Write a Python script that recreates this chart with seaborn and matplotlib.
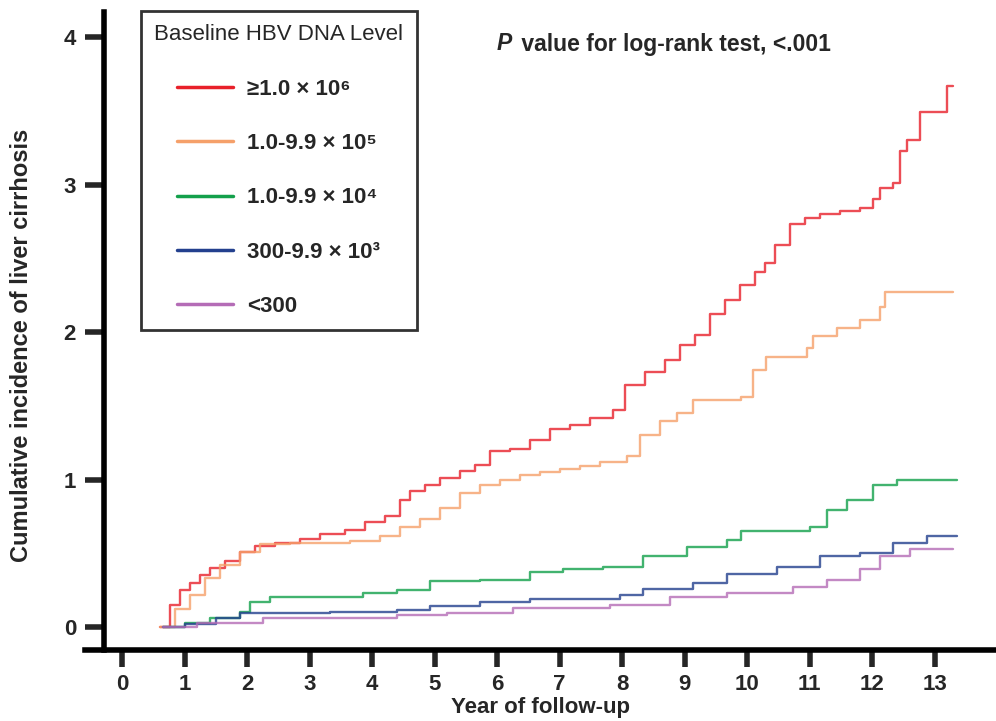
import pandas as pd
import matplotlib.pyplot as plt
import seaborn as sns

groups = ["≥1.0 × 10⁶", "1.0-9.9 × 10⁵", "1.0-9.9 × 10⁴", "300-9.9 × 10³", "<300"]
colors = ["#e8202a", "#f5a06a", "#13a04b", "#23408e", "#b46cb6"]

red_t = [0.61, 0.77, 0.93, 1.09, 1.25, 1.41, 1.65, 1.89, 2.13, 2.45, 2.85, 3.17, 3.57, 3.89, 4.21,
         4.45, 4.61, 4.85, 5.09, 5.41, 5.65, 5.89, 6.21, 6.53, 6.85, 7.17, 7.49, 7.86, 8.05, 8.37,
         8.69, 8.93, 9.17, 9.41, 9.65, 9.89, 10.13, 10.29, 10.45, 10.69, 10.93, 11.17, 11.49, 11.81,
         12.02, 12.13, 12.34, 12.45, 12.56, 12.77, 13.2, 13.3]
red_y = [0, 0.15, 0.25, 0.30, 0.35, 0.40, 0.45, 0.51, 0.55, 0.57, 0.60, 0.63, 0.66, 0.71, 0.75,
         0.86, 0.92, 0.96, 1.01, 1.06, 1.10, 1.19, 1.21, 1.27, 1.34, 1.37, 1.42, 1.47, 1.64, 1.73,
         1.81, 1.91, 1.98, 2.12, 2.22, 2.32, 2.41, 2.47, 2.59, 2.73, 2.77, 2.80, 2.82, 2.84,
         2.90, 2.98, 3.01, 3.23, 3.30, 3.49, 3.67, 3.67]

orange_t = [0.61, 0.85, 1.09, 1.33, 1.57, 1.89, 2.21, 2.69, 3.65, 4.13, 4.45, 4.77, 5.09, 5.41,
            5.73, 6.05, 6.37, 6.69, 7.01, 7.33, 7.65, 8.08, 8.29, 8.61, 8.88, 9.14, 9.90, 10.10,
            10.30, 10.96, 11.06, 11.44, 11.81, 12.13, 12.21, 13.30]
orange_y = [0, 0.12, 0.22, 0.33, 0.42, 0.51, 0.56, 0.57, 0.58, 0.62, 0.68, 0.73, 0.81, 0.91,
            0.96, 1.00, 1.03, 1.05, 1.07, 1.09, 1.12, 1.16, 1.30, 1.40, 1.45, 1.54, 1.56, 1.74,
            1.83, 1.89, 1.97, 2.03, 2.08, 2.17, 2.27, 2.27]

green_t = [0.65, 1.0, 1.4, 1.89, 2.05, 2.37, 3.86, 4.40, 4.93, 5.73, 6.53, 7.06, 7.70, 8.34,
           9.04, 9.68, 9.90, 11.00, 11.28, 11.60, 12.02, 12.40, 13.36]
green_y = [0, 0.03, 0.06, 0.10, 0.17, 0.20, 0.23, 0.25, 0.31, 0.32, 0.37, 0.39, 0.41, 0.48,
           0.54, 0.59, 0.65, 0.68, 0.79, 0.86, 0.96, 1.00, 1.00]

blue_t = [0.65, 1.0, 1.5, 1.89, 3.33, 4.40, 4.93, 5.73, 6.53, 7.0, 7.97, 8.34, 9.14, 9.68,
          10.48, 11.17, 11.81, 12.34, 12.88, 13.36]
blue_y = [0, 0.02, 0.06, 0.095, 0.10, 0.115, 0.14, 0.17, 0.19, 0.19, 0.22, 0.26, 0.30, 0.36,
          0.41, 0.48, 0.50, 0.57, 0.62, 0.62]

purple_t = [0.65, 1.2, 2.26, 4.40, 5.20, 6.26, 7.0, 7.81, 8.77, 9.68, 10.74, 11.28, 11.81,
            12.13, 12.61, 13.30]
purple_y = [0, 0.03, 0.06, 0.08, 0.095, 0.13, 0.13, 0.15, 0.20, 0.23, 0.27, 0.32, 0.39,
            0.48, 0.53, 0.53]

times = [red_t, orange_t, green_t, blue_t, purple_t]
values = [red_y, orange_y, green_y, blue_y, purple_y]

rows = []
for g, ts, ys in zip(groups, times, values):
    for t, y in zip(ts, ys):
        rows.append({"Year": t, "Incidence": y, "Group": g})
df = pd.DataFrame(rows)

sns.set_style("white")
font = ["Liberation Sans", "DejaVu Sans"]
plt.rcParams["font.family"] = font

fig = plt.figure(figsize=(9.96, 7.21), dpi=100)
ax = fig.add_axes([85 / 996, 1 - 650 / 721, 1 - 85 / 996, (650 - 12) / 721])

sns.lineplot(data=df, x="Year", y="Incidence", hue="Group", hue_order=groups,
             palette=colors, estimator=None, sort=False, drawstyle="steps-post",
             linewidth=1.7, alpha=0.8, ax=ax)

ax.set_xlim(-0.592, 13.98)
ax.set_ylim(-0.156, 4.17)
ax.set_xticks(range(0, 14))
ax.set_yticks(range(0, 5))

for s in ["top", "right"]:
    ax.spines[s].set_visible(False)
ax.spines["left"].set_position(("data", -0.29))
ax.spines["left"].set_linewidth(4)
ax.spines["bottom"].set_linewidth(4)
ax.spines["left"].set_color("black")
ax.spines["bottom"].set_color("black")
ax.tick_params(axis="y", direction="out", length=14, width=4, pad=6, left=True)
ax.tick_params(axis="x", direction="out", length=12, width=4, pad=5, bottom=True)

for lab in ax.get_yticklabels() + ax.get_xticklabels():
    lab.set_fontsize(16)
    lab.set_fontweight("bold")

ax.set_xlabel("Year of follow-up", fontsize=16, fontweight="bold", labelpad=2)
ax.set_ylabel("")
fig.text(22 / 996, 1 - 345 / 721, "Cumulative incidence of liver cirrhosis", rotation=90,
         fontsize=17, fontweight="bold", ha="center", va="center")

fig.text(497 / 996, 1 - 44 / 721, "P", fontsize=16.5, fontweight="bold", style="italic",
         ha="left", va="center")
fig.text(515 / 996, 1 - 44 / 721, " value for log-rank test, <.001", fontsize=16.5,
         fontweight="bold", ha="left", va="center")

handles, labels = ax.get_legend_handles_labels()
for h in handles:
    h.set_linewidth(2.5)
    h.set_alpha(1)
leg = ax.legend(handles, labels, title="Baseline HBV DNA Level", loc="upper left",
                bbox_to_anchor=(141 / 996, 1 - 11 / 721), bbox_transform=fig.transFigure,
                borderaxespad=0, frameon=True, fancybox=False, edgecolor="black",
                fontsize=16, title_fontsize=16, labelspacing=1.5, handlelength=2.5,
                handletextpad=0.65, borderpad=0.6)
leg.get_frame().set_linewidth(2)
for t in leg.get_texts():
    t.set_fontweight("bold")

fig.savefig("out.png", dpi=100)
